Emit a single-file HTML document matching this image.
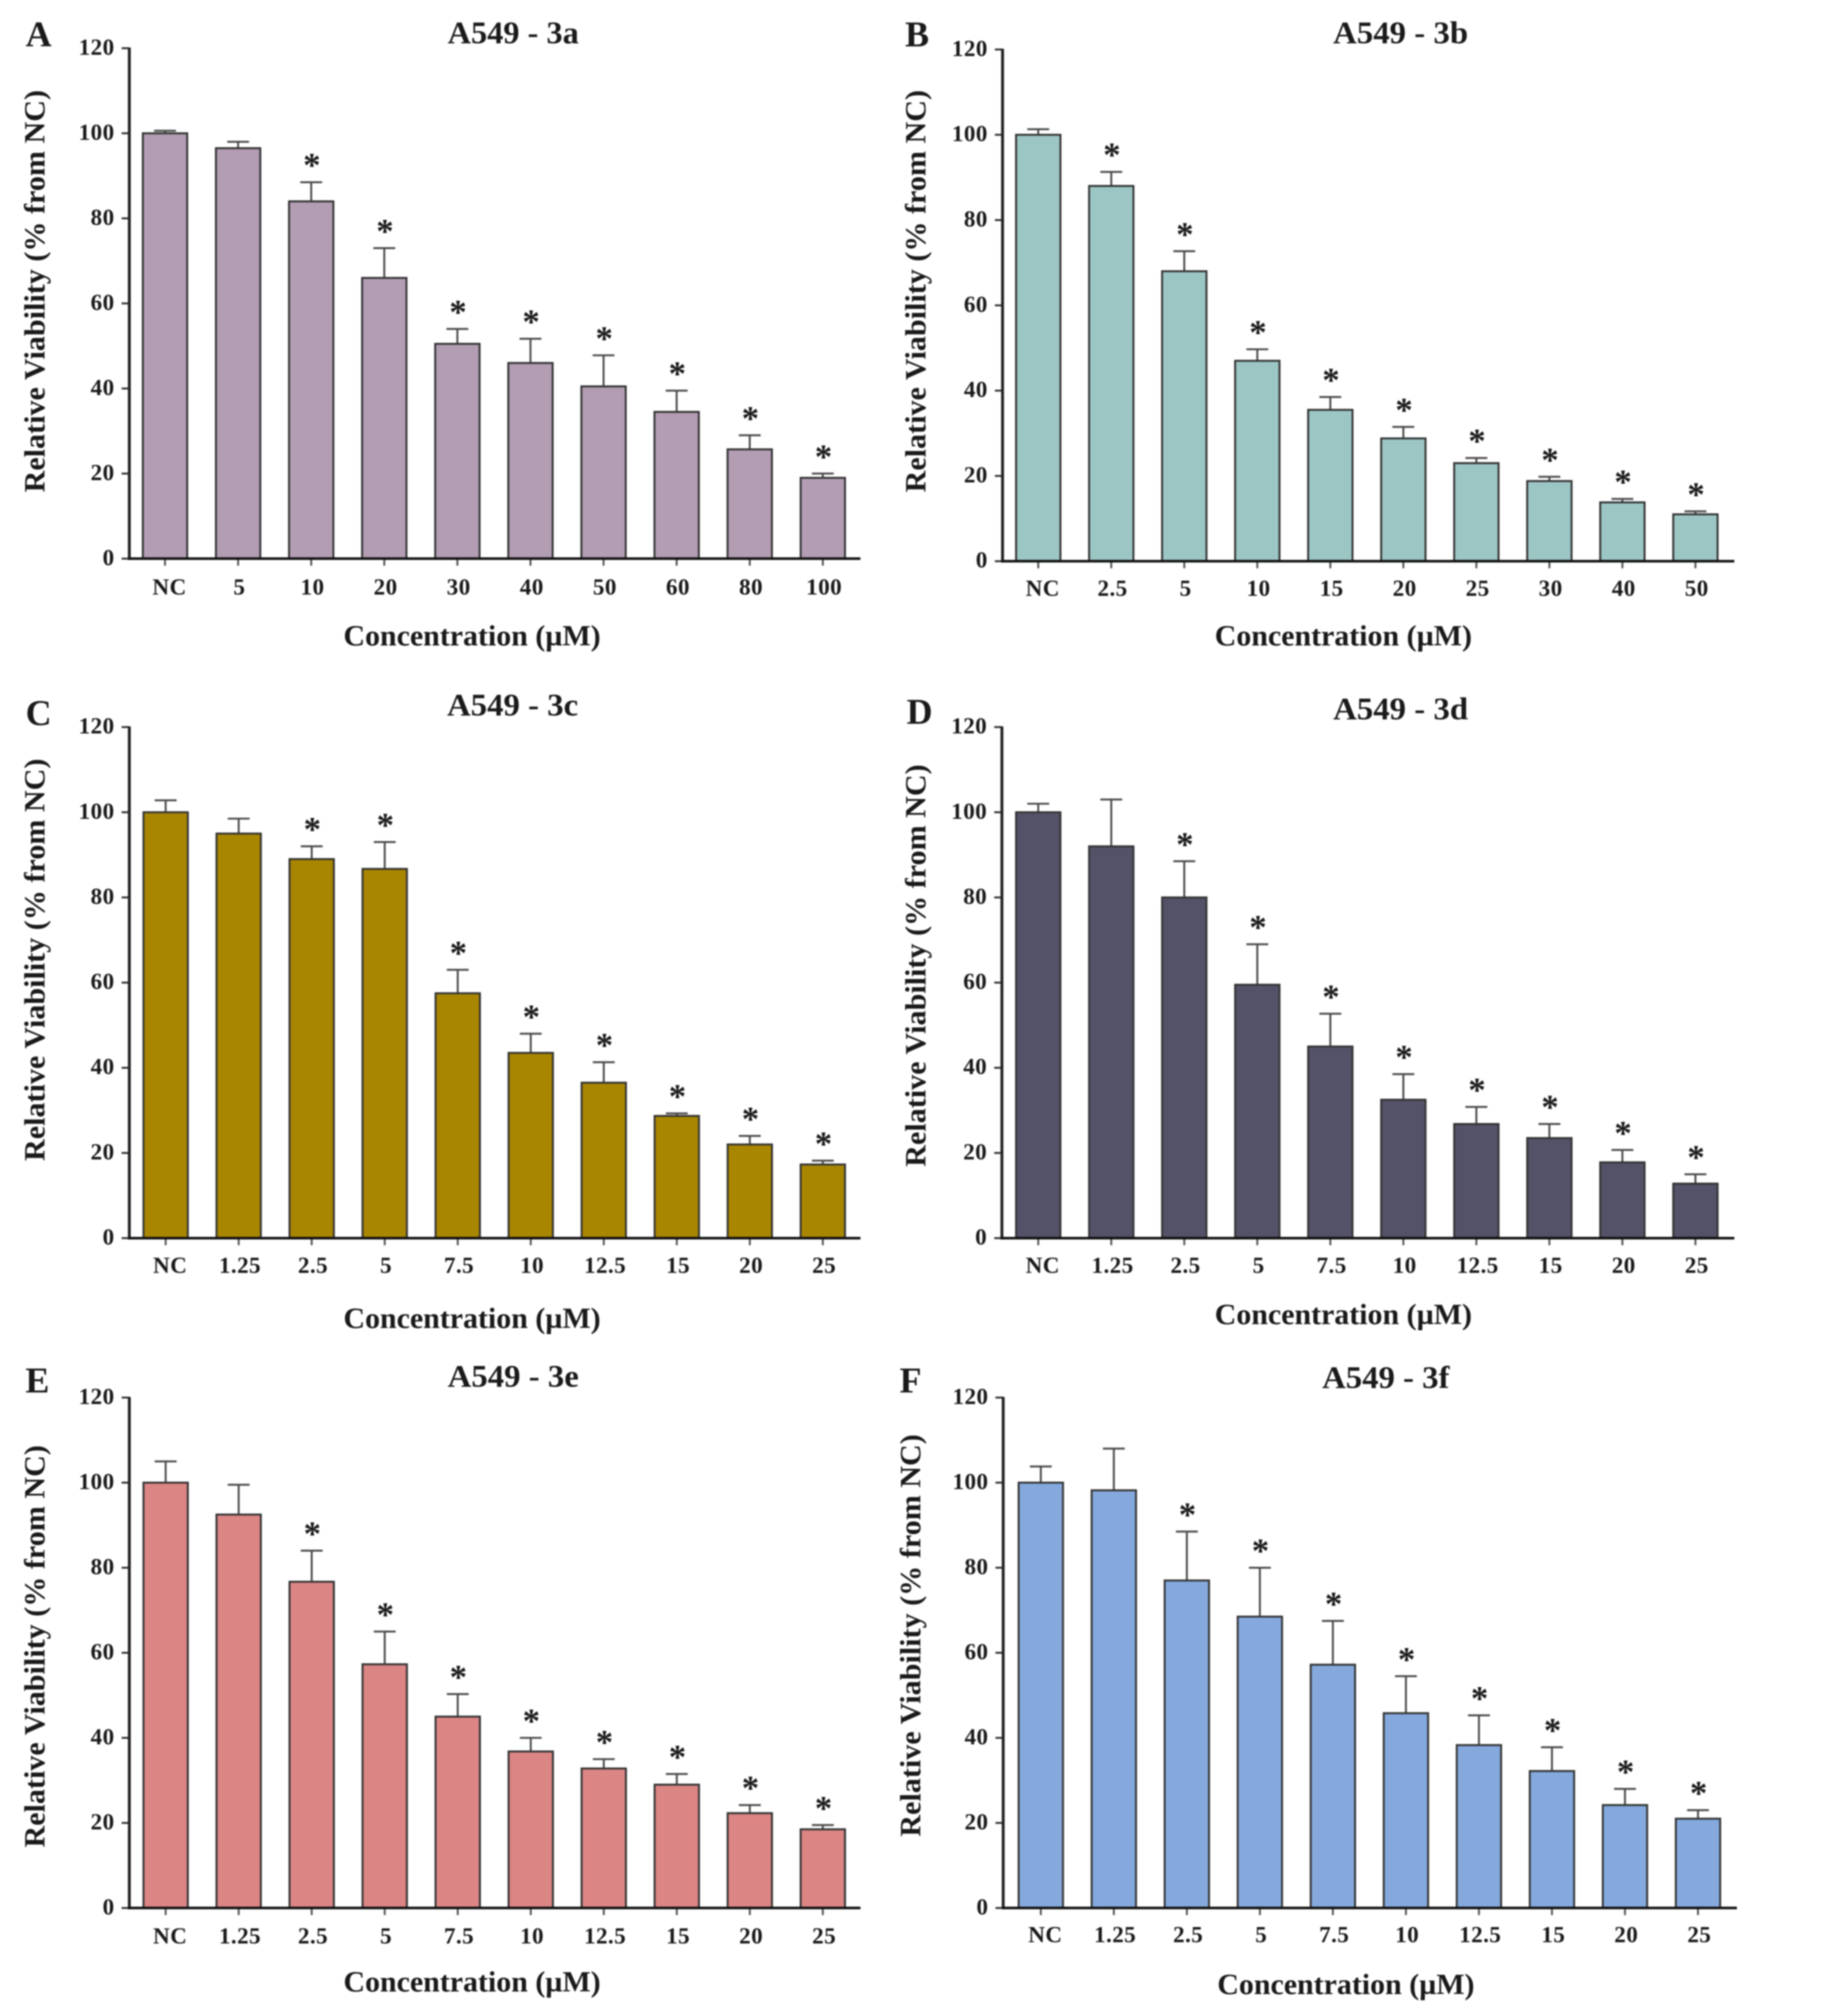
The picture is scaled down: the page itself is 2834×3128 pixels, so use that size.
<!DOCTYPE html>
<html lang="en">
<head>
<meta charset="utf-8">
<title>A549 relative viability panels</title>
<style>
html,body{margin:0;padding:0;background:#fff;width:2834px;height:3128px;overflow:hidden}
svg{display:block;filter:blur(1px)}
text{font-family:"Liberation Serif",serif;fill:#1a1a1a}
.tick{font-size:36px;font-weight:bold;letter-spacing:0.6px;stroke:none}
.axt{font-size:46px;font-weight:bold}
.ttl{font-size:49px;font-weight:bold}
.let{font-size:56px;font-weight:bold}
.star{font-size:54px;font-weight:bold}
</style>
</head>
<body>
<svg id="fig" xmlns="http://www.w3.org/2000/svg" width="2834" height="3128" viewBox="0 0 2841 3136">
<rect width="2841" height="3136" fill="#fff"/>
<g>
<text class="let" x="60" y="72" text-anchor="middle">A</text>
<text class="ttl" x="798" y="67" text-anchor="middle" textLength="204" lengthAdjust="spacingAndGlyphs">A549 - 3a</text>
<text class="axt" x="734" y="1004" text-anchor="middle" textLength="400" lengthAdjust="spacingAndGlyphs">Concentration (µM)</text>
<text class="axt" transform="translate(69,453) rotate(-90)" text-anchor="middle" textLength="626" lengthAdjust="spacingAndGlyphs">Relative Viability (% from NC)</text>
</g>
<g>
<text class="let" x="1426" y="72" text-anchor="middle">B</text>
<text class="ttl" x="2178" y="67" text-anchor="middle" textLength="210" lengthAdjust="spacingAndGlyphs">A549 - 3b</text>
<text class="axt" x="2089" y="1004" text-anchor="middle" textLength="400" lengthAdjust="spacingAndGlyphs">Concentration (µM)</text>
<text class="axt" transform="translate(1439,453) rotate(-90)" text-anchor="middle" textLength="626" lengthAdjust="spacingAndGlyphs">Relative Viability (% from NC)</text>
</g>
<g>
<text class="let" x="60" y="1128" text-anchor="middle">C</text>
<text class="ttl" x="797" y="1113" text-anchor="middle" textLength="204" lengthAdjust="spacingAndGlyphs">A549 - 3c</text>
<text class="axt" x="734" y="2066" text-anchor="middle" textLength="400" lengthAdjust="spacingAndGlyphs">Concentration (µM)</text>
<text class="axt" transform="translate(69,1493) rotate(-90)" text-anchor="middle" textLength="626" lengthAdjust="spacingAndGlyphs">Relative Viability (% from NC)</text>
</g>
<g>
<text class="let" x="1430" y="1126" text-anchor="middle">D</text>
<text class="ttl" x="2178" y="1119" text-anchor="middle" textLength="210" lengthAdjust="spacingAndGlyphs">A549 - 3d</text>
<text class="axt" x="2089" y="2060" text-anchor="middle" textLength="400" lengthAdjust="spacingAndGlyphs">Concentration (µM)</text>
<text class="axt" transform="translate(1439,1502) rotate(-90)" text-anchor="middle" textLength="626" lengthAdjust="spacingAndGlyphs">Relative Viability (% from NC)</text>
</g>
<g>
<text class="let" x="58" y="2166" text-anchor="middle">E</text>
<text class="ttl" x="798" y="2157" text-anchor="middle" textLength="204" lengthAdjust="spacingAndGlyphs">A549 - 3e</text>
<text class="axt" x="734" y="3098" text-anchor="middle" textLength="400" lengthAdjust="spacingAndGlyphs">Concentration (µM)</text>
<text class="axt" transform="translate(69,2561) rotate(-90)" text-anchor="middle" textLength="626" lengthAdjust="spacingAndGlyphs">Relative Viability (% from NC)</text>
</g>
<g>
<text class="let" x="1416" y="2166" text-anchor="middle">F</text>
<text class="ttl" x="2155" y="2159" text-anchor="middle" textLength="198" lengthAdjust="spacingAndGlyphs">A549 - 3f</text>
<text class="axt" x="2093" y="3102" text-anchor="middle" textLength="400" lengthAdjust="spacingAndGlyphs">Concentration (µM)</text>
<text class="axt" transform="translate(1431,2544) rotate(-90)" text-anchor="middle" textLength="626" lengthAdjust="spacingAndGlyphs">Relative Viability (% from NC)</text>
</g>
<g id="marks"></g>
</svg>
<script>
// Tick labels
const yTicks = [0, 20, 40, 60, 80, 100, 120];
const catsA = ['NC', '5', '10', '20', '30', '40', '50', '60', '80', '100'];
const catsB = ['NC', '2.5', '5', '10', '15', '20', '25', '30', '40', '50'];
const catsC = ['NC', '1.25', '2.5', '5', '7.5', '10', '12.5', '15', '20', '25'];
const catsD = ['NC', '1.25', '2.5', '5', '7.5', '10', '12.5', '15', '20', '25'];
const catsE = ['NC', '1.25', '2.5', '5', '7.5', '10', '12.5', '15', '20', '25'];
const catsF = ['NC', '1.25', '2.5', '5', '7.5', '10', '12.5', '15', '20', '25'];
// Bar means
const valuesA = [100, 96.5, 84, 66, 50.5, 46, 40.5, 34.5, 25.7, 19];
const valuesB = [100, 88, 68, 47, 35.5, 28.8, 23, 18.8, 13.8, 11];
const valuesC = [100, 95, 89, 86.7, 57.5, 43.5, 36.5, 28.7, 22, 17.3];
const valuesD = [100, 92, 80, 59.5, 45, 32.5, 26.8, 23.5, 17.8, 12.8];
const valuesE = [100, 92.5, 76.7, 57.3, 45, 36.8, 32.8, 29, 22.3, 18.5];
const valuesF = [100, 98.2, 77, 68.5, 57.2, 45.8, 38.3, 32.2, 24.2, 21];
// Error bar tops
const errTopA = [100.6, 98, 88.5, 73, 54, 51.7, 47.8, 39.5, 29, 20];
const errTopB = [101.3, 91.3, 72.7, 49.7, 38.5, 31.5, 24.2, 19.8, 14.6, 11.7];
const errTopC = [102.8, 98.5, 92, 93, 63, 48, 41.3, 29.3, 24, 18.2];
const errTopD = [102, 103, 88.5, 69, 52.7, 38.5, 30.8, 26.8, 20.7, 15];
const errTopE = [105, 99.5, 84, 65, 50.3, 40, 35, 31.5, 24.2, 19.5];
const errTopF = [103.8, 108, 88.5, 80, 67.5, 54.5, 45.3, 37.8, 28, 23];
// Significance flags
const starsA = [0, 0, 1, 1, 1, 1, 1, 1, 1, 1];
const starsB = [0, 1, 1, 1, 1, 1, 1, 1, 1, 1];
const starsC = [0, 0, 1, 1, 1, 1, 1, 1, 1, 1];
const starsD = [0, 0, 1, 1, 1, 1, 1, 1, 1, 1];
const starsE = [0, 0, 1, 1, 1, 1, 1, 1, 1, 1];
const starsF = [0, 0, 1, 1, 1, 1, 1, 1, 1, 1];

const NS = 'http://www.w3.org/2000/svg';
const root = document.getElementById('marks');
function mk(tag, parent, attrs) {
  const e = document.createElementNS(NS, tag);
  for (const k in attrs) e.setAttribute(k, attrs[k]);
  parent.appendChild(e);
  return e;
}
const panels = [
  {id:'a', cats:catsA, vals:valuesA, errs:errTopA, stars:starsA, color:'#B29DB3', ax:201,  y0:869,  y120:75,   first:222,  last:1245, right:1338, labY:915},
  {id:'b', cats:catsB, vals:valuesB, errs:errTopB, stars:starsB, color:'#9CC6C4', ax:1559, y0:873,  y120:77,   first:1580, last:2602, right:2697, labY:917},
  {id:'c', cats:catsC, vals:valuesC, errs:errTopC, stars:starsC, color:'#A98600', ax:201,  y0:1926, y120:1131, first:223,  last:1245, right:1338, labY:1970},
  {id:'d', cats:catsD, vals:valuesD, errs:errTopD, stars:starsD, color:'#535268', ax:1558, y0:1926, y120:1131, first:1580, last:2602, right:2697, labY:1970},
  {id:'e', cats:catsE, vals:valuesE, errs:errTopE, stars:starsE, color:'#DC8585', ax:201,  y0:2968, y120:2174, first:223,  last:1245, right:1338, labY:3013},
  {id:'f', cats:catsF, vals:valuesF, errs:errTopF, stars:starsF, color:'#85A9DD', ax:1560, y0:2968, y120:2174, first:1584, last:2606, right:2701, labY:3011}
];
const BW = 69;
panels.forEach(function (p) {
  const g = mk('g', root, {});
  
  
  const yScale = function (v) { return p.y0 - (v / 120) * (p.y0 - p.y120); };
  const xScale = function (i) { return p.first + BW / 2 + i * (p.last - p.first) / (p.cats.length - 1); };
  p.vals.forEach(function (v, i) {
    const cx = xScale(i), top = yScale(v), et = yScale(p.errs[i]);
    const err = mk('path', g, {d:'M' + cx + ' ' + top + 'V' + et + 'M' + (cx - 17) + ' ' + et + 'H' + (cx + 17), fill:'none', stroke:'#4a4a4a', 'stroke-width':3});
    
    
    const bar = mk('rect', g, {x:cx - BW / 2, y:top, width:BW, height:p.y0 - top, fill:p.color, stroke:'#333', 'stroke-width':3});
    
    
    const tk = mk('line', g, {x1:cx, x2:cx, y1:p.y0, y2:p.y0 + 11, stroke:'#555', 'stroke-width':3});
    
    
    const lab = mk('text', g, {class:'tick', x:cx + (i === 0 ? 7 : 2), y:p.labY + 10, 'text-anchor':'middle'});
    lab.textContent = p.cats[i];
    
    
    if (p.stars[i]) {
      const s = mk('text', g, {class:'star', x:cx + 1, y:et - 8, 'text-anchor':'middle'});
      s.textContent = '*';
      
      
    }
  });
  yTicks.forEach(function (t) {
    const y = yScale(t);
    const tk = mk('line', g, {x1:p.ax - 12, x2:p.ax, y1:y, y2:y, stroke:'#333', 'stroke-width':3});
    
    
    const lab = mk('text', g, {class:'tick', x:p.ax - 23, y:y + 10, 'text-anchor':'end'});
    lab.textContent = t;
    
    
  });
  const ya = mk('line', g, {x1:p.ax, x2:p.ax, y1:p.y120 - 1, y2:p.y0 + 2, stroke:'#222', 'stroke-width':4.5});
  
  
  const xa = mk('line', g, {x1:p.ax - 2, x2:p.right, y1:p.y0, y2:p.y0, stroke:'#111', 'stroke-width':4});
  
  
});
</script>
</body>
</html>
